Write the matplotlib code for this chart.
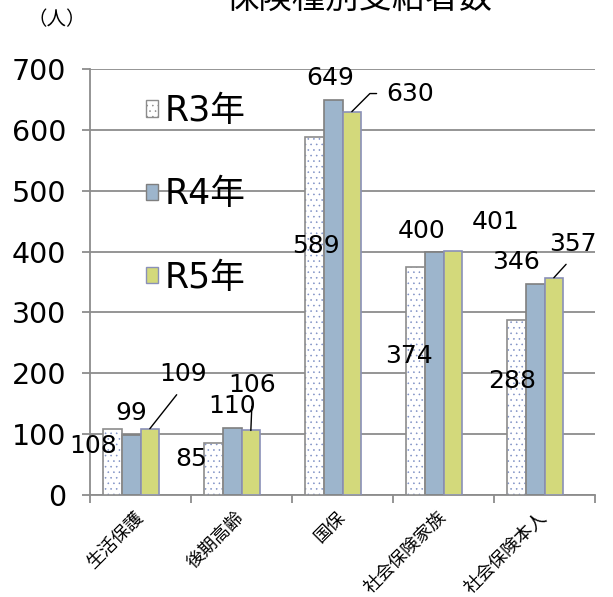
import numpy as np
import matplotlib
matplotlib.use("Agg")
import matplotlib.pyplot as plt
from matplotlib.patches import Patch

plt.rcParams['font.family'] = ['DejaVu Sans', 'Noto Sans CJK JP']
plt.rcParams['hatch.linewidth'] = 0.4

# データ
categories = ['生活保護', '後期高齢', '国保', '社会保険家族', '社会保険本人']
series_names = ['R3年', 'R4年', 'R5年']
r3 = [108, 85, 589, 374, 288]
r4 = [99, 110, 649, 400, 346]
r5 = [109, 106, 630, 401, 357]

# ラベルの位置 (ポイント単位のずれ)
off_r3 = [(-14, -12), (-16, -11), (1, -79), (-5, -64), (-3, -44)]
off_r4 = [(0, 16), (0, 16), (-2, 16), (-9, 15), (-14, 16)]
off_r5 = [(24, 39), (1, 33), (42, 13), (31, 21), (14, 24)]
leader_r5 = [True, True, True, False, True]

fig = plt.figure(figsize=(6.13, 5.97), dpi=100)
ax = fig.add_axes([90/613, 1-495/597, 505/613, 426/597])

x = np.arange(len(categories))
w = 0.185
pos3 = x - 0.5 + 0.13 + w/2
pos4 = pos3 + w
pos5 = pos4 + w

# R3: 点の網掛け
ax.bar(pos3, r3, w, color='white', edgecolor='#7d8fc4', hatch='...', linewidth=0, zorder=3)
ax.bar(pos3, r3, w, fill=False, edgecolor='#8c8c8c', linewidth=1.2, zorder=4)
ax.bar(pos4, r4, w, color='#9db5cc', edgecolor='#7f7f7f', linewidth=1.2, zorder=3)
ax.bar(pos5, r5, w, color='#d3d97b', edgecolor='#8a90b8', linewidth=1.2, zorder=3)

ax.set_ylim(0, 700)
ax.set_xlim(-0.5, len(categories) - 0.5)
ax.set_yticks(range(0, 701, 100))
ax.yaxis.grid(True, color='#8c8c8c', linewidth=1.3, zorder=0)
ax.set_axisbelow(True)
for s in ['top', 'right']:
    ax.spines[s].set_visible(False)
for s in ['left', 'bottom']:
    ax.spines[s].set_color('#8c8c8c')
    ax.spines[s].set_linewidth(1.3)
ax.tick_params(axis='y', labelsize=20.5, length=6, width=1.3, color='#8c8c8c', pad=11)
ax.set_xticks(np.arange(-0.5, len(categories), 1.0))
ax.set_xticklabels([])
ax.tick_params(axis='x', which='major', length=6, width=1.3, color='#8c8c8c')
ax.set_xticks(x, minor=True)
ax.set_xticklabels(categories, minor=True, rotation=45, ha='right', va='center',
                   rotation_mode='anchor', fontsize=13, family='Noto Sans CJK JP')
ax.tick_params(axis='x', which='minor', length=0, pad=14)

# データラベル
lab = dict(textcoords='offset points', ha='center', va='center', fontsize=18, zorder=6)
for i in range(len(categories)):
    ax.annotate(str(r3[i]), (pos3[i], r3[i]), xytext=off_r3[i], **lab)
    ax.annotate(str(r4[i]), (pos4[i], r4[i]), xytext=off_r4[i], **lab)
    if not leader_r5[i]:
        ax.annotate(str(r5[i]), (pos5[i], r5[i]), xytext=off_r5[i], **lab)
    elif i == 2:
        # 折れ線の引き出し線
        ax.annotate(str(r5[i]), (pos5[i], r5[i]), xytext=off_r5[i], **lab,
                    arrowprops=dict(arrowstyle='-', color='black', lw=1, relpos=(0, 0.5),
                                    connectionstyle='angle,angleA=0,angleB=45,rad=0',
                                    shrinkA=5, shrinkB=0))
    else:
        ax.annotate(str(r5[i]), (pos5[i], r5[i]), xytext=off_r5[i], **lab,
                    arrowprops=dict(arrowstyle='-', color='black', lw=1, relpos=(0.5, 0),
                                    shrinkA=5, shrinkB=0))

# 凡例
handles = [Patch(facecolor='white', edgecolor='#8c8c8c', hatch='...'),
           Patch(facecolor='#9db5cc', edgecolor='#7f7f7f'),
           Patch(facecolor='#d3d97b', edgecolor='#8a90b8')]
fig.legend(handles, series_names, loc='upper left', bbox_to_anchor=(146/613, 1-94/597),
           frameon=False, fontsize=25, handlelength=0.35, handleheight=0.35,
           handletextpad=0.2, labelspacing=1.42, borderaxespad=0, borderpad=0)

fig.text(359/613, 1-8/597, '保険種別受給者数', ha='center', va='baseline',
         fontsize=24, family='Noto Sans CJK JP')
fig.text(57/613, 1-20/597, '（人）', ha='center', va='center',
         fontsize=14, family='Noto Sans CJK JP')

fig.savefig('out.png', dpi=100)
